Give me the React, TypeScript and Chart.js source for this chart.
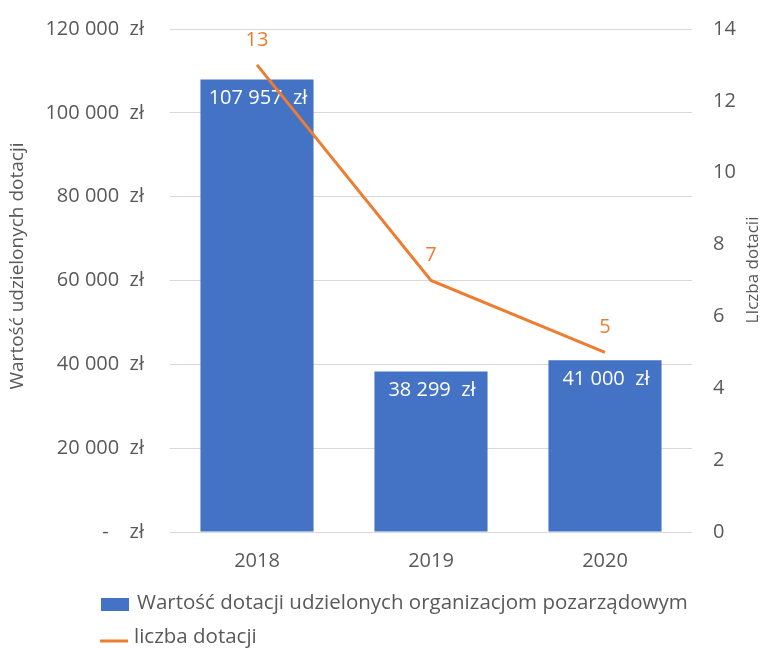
import React, { useEffect, useRef } from "react";
import { Chart, registerables } from "chart.js";

Chart.register(...registerables);

const categories = ["2018", "2019", "2020"];
const grantValues = [107957, 38299, 41000];
const grantValueLabels = ["107 957  zł", "38 299  zł", "41 000  zł"];
const grantCounts = [13, 7, 5];
const leftTickLabels = ["-    zł", "20 000  zł", "40 000  zł", "60 000  zł", "80 000  zł", "100 000  zł", "120 000  zł"];
const barSeriesName = "Wartość dotacji udzielonych organizacjom pozarządowym";
const lineSeriesName = "liczba dotacji";
const leftTitle = "Wartość udzielonych dotacji";
const rightTitle = "LIczba dotacji";

const BLUE = "#4472C4";
const ORANGE = "#ED7D31";
const GRAY = "#595959";
const GRID = "#d9d9d9";
const FONT = "'Open Sans'";

const labelsPlugin = {
  id: "valueLabels",
  afterDatasetDraw(chart: any, args: any) {
    const ctx = chart.ctx;
    const ds = chart.data.datasets[args.index];
    const meta = args.meta;
    ctx.save();
    ctx.font = `20px ${FONT}`;
    ctx.textAlign = "center";
    ctx.textBaseline = "middle";
    if (ds.type === "bar") {
      ctx.fillStyle = "#ffffff";
      meta.data.forEach((el: any, i: number) => {
        ctx.fillText(grantValueLabels[i], el.x + 1, el.y + 19);
      });
    } else {
      ctx.fillStyle = ORANGE;
      meta.data.forEach((el: any, i: number) => {
        ctx.fillText(String(grantCounts[i]), el.x, el.y - 25);
      });
    }
    ctx.restore();
  },
};

const titlesAndLegendPlugin = {
  id: "titlesLegend",
  afterDraw(chart: any) {
    const ctx = chart.ctx;
    ctx.save();
    ctx.fillStyle = GRAY;
    ctx.textAlign = "center";
    ctx.textBaseline = "middle";
    ctx.font = `19px ${FONT}`;
    ctx.save();
    ctx.translate(10, 258);
    ctx.rotate(-Math.PI / 2);
    ctx.fillText(leftTitle, 0, 0);
    ctx.restore();
    ctx.font = `17px ${FONT}`;
    ctx.save();
    ctx.translate(745, 262);
    ctx.rotate(-Math.PI / 2);
    ctx.fillText(rightTitle, 0, 0);
    ctx.restore();
    ctx.font = `20.5px ${FONT}`;
    ctx.textAlign = "left";
    ctx.fillStyle = BLUE;
    ctx.fillRect(93, 590, 28, 13);
    ctx.fillStyle = GRAY;
    ctx.fillText(barSeriesName, 129, 595);
    ctx.strokeStyle = ORANGE;
    ctx.lineWidth = 3;
    ctx.beginPath();
    ctx.moveTo(92, 633);
    ctx.lineTo(120, 633);
    ctx.stroke();
    ctx.fillStyle = GRAY;
    ctx.fillText(lineSeriesName, 126, 629);
    ctx.restore();
  },
};

export default function App() {
  const ref = useRef<HTMLCanvasElement>(null);
  useEffect(() => {
    if (!ref.current) return;
    const chart = new Chart(ref.current, {
      type: "bar",
      data: {
        labels: categories,
        datasets: [
          {
            type: "line",
            label: lineSeriesName,
            data: grantCounts,
            yAxisID: "y1",
            borderColor: ORANGE,
            backgroundColor: ORANGE,
            borderWidth: 3,
            pointRadius: 0,
            tension: 0,
            order: 0,
          } as any,
          {
            type: "bar",
            label: barSeriesName,
            data: grantValues,
            yAxisID: "y",
            backgroundColor: BLUE,
            categoryPercentage: 1,
            barPercentage: 0.65,
            order: 1,
          } as any,
        ],
      },
      plugins: [labelsPlugin, titlesAndLegendPlugin],
      options: {
        animation: false,
        responsive: false,
        layout: { padding: { top: 21, bottom: 76, left: 0, right: 0 } },
        plugins: { legend: { display: false }, tooltip: { enabled: false } },
        scales: {
          x: {
            grid: { display: false },
            border: { display: false },
            ticks: { color: GRAY, font: { family: FONT, size: 20 }, padding: 9 },
            afterFit: (s: any) => { s.height = 40; },
          },
          y: {
            position: "left",
            min: 0,
            max: 120000,
            grid: { color: GRID, drawTicks: true, tickLength: 26, tickColor: "rgba(0,0,0,0)", lineWidth: 1 },
            border: { display: false },
            ticks: {
              stepSize: 20000,
              color: GRAY,
              padding: 0,
              font: { family: FONT, size: 20 },
              callback: (v: any) => leftTickLabels[Math.round(Number(v) / 20000)],
            },
            afterFit: (s: any) => { s.width = 162; },
          },
          y1: {
            position: "right",
            min: 0,
            max: 14,
            grid: { display: true, drawOnChartArea: false, drawTicks: true, tickLength: 21, color: "rgba(0,0,0,0)", tickColor: "rgba(0,0,0,0)" },
            border: { display: false },
            ticks: { stepSize: 2, color: GRAY, padding: 0, font: { family: FONT, size: 20 } },
            afterFit: (s: any) => { s.width = 74; },
          },
        },
      },
    });
    return () => chart.destroy();
  }, []);
  return <canvas ref={ref} width={758} height={640} style={{ display: "block" }} />;
}
